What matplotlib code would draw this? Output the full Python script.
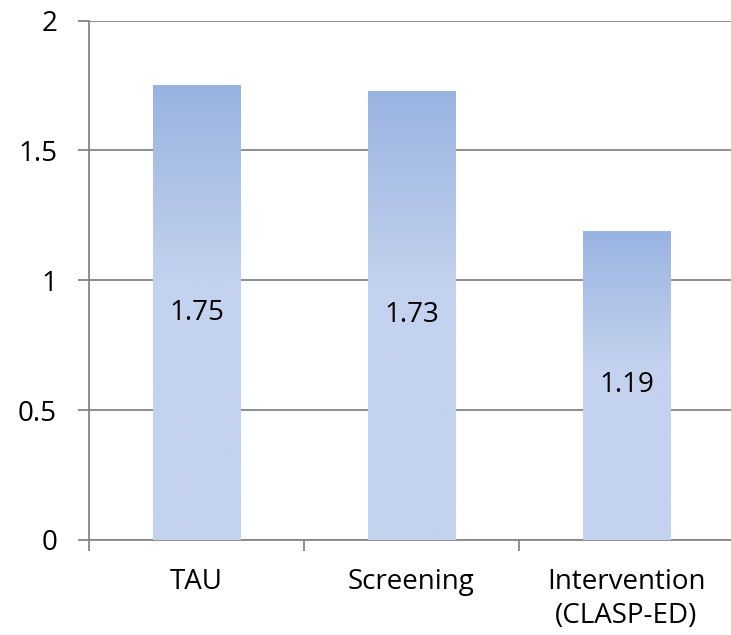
import numpy as np
import matplotlib
matplotlib.use("Agg")
import matplotlib.pyplot as plt
from matplotlib.colors import LinearSegmentedColormap

categories = ["TAU", "Screening", "Intervention\n(CLASP-ED)"]
values = [1.75, 1.73, 1.19]
yticks = [0, 0.5, 1, 1.5, 2]
ytick_labels = ["0", "0.5", "1", "1.5", "2"]

plt.rcParams["font.family"] = ["Open Sans", "DejaVu Sans"]

W, H = 731, 635
fig = plt.figure(figsize=(W / 100, H / 100), dpi=100)
ax = fig.add_axes([89 / W, 95 / H, 645 / W, 519.5 / H])

x = np.arange(len(categories))
bars = ax.bar(x, values, width=0.405, color="none", edgecolor="none", zorder=3)

# vertical gradient: darker at the top, flat lighter tone over the lower part
cmap = LinearSegmentedColormap.from_list(
    "barfill", [(0.0, "#c3d2ee"), (0.57, "#c3d2ee"), (1.0, "#99b3e1")])
grad = np.linspace(0, 1, 256).reshape(-1, 1)
for b in bars:
    x0, y0 = b.get_x(), b.get_y()
    w, h = b.get_width(), b.get_height()
    im = ax.imshow(grad, cmap=cmap, origin="lower", aspect="auto",
                   extent=[x0, x0 + w, y0, y0 + h], zorder=3,
                   interpolation="bilinear")
    im.set_clip_path(b)

for xi, v in zip(x, values):
    ax.text(xi, v / 2, f"{v:.2f}", ha="center", va="center",
            fontsize=20, color="#000000", zorder=4)

ax.set_xlim(-0.5, 2.5)
ax.set_ylim(0, 2)
ax.set_yticks(yticks)
ax.set_yticklabels(ytick_labels)
ax.set_xticks([-0.5, 0.5, 1.5, 2.5], minor=False)
ax.set_xticklabels([])
ax.set_xticks(x, minor=True)
ax.set_xticklabels(categories, minor=True, linespacing=1.3)
ax.tick_params(axis="x", which="minor", length=0, pad=20, labelsize=20)
ax.tick_params(axis="x", which="major", length=8, width=1.3, color="#868686")
ax.tick_params(axis="y", length=8, width=1.3, color="#868686", pad=15,
               labelsize=20)

ax.yaxis.grid(True, color="#868686", linewidth=1.3, zorder=0)
ax.set_axisbelow(True)
for s in ["top", "right"]:
    ax.spines[s].set_visible(False)
for s in ["left", "bottom"]:
    ax.spines[s].set_color("#868686")
    ax.spines[s].set_linewidth(1.3)

fig.savefig("out.png", dpi=100)
